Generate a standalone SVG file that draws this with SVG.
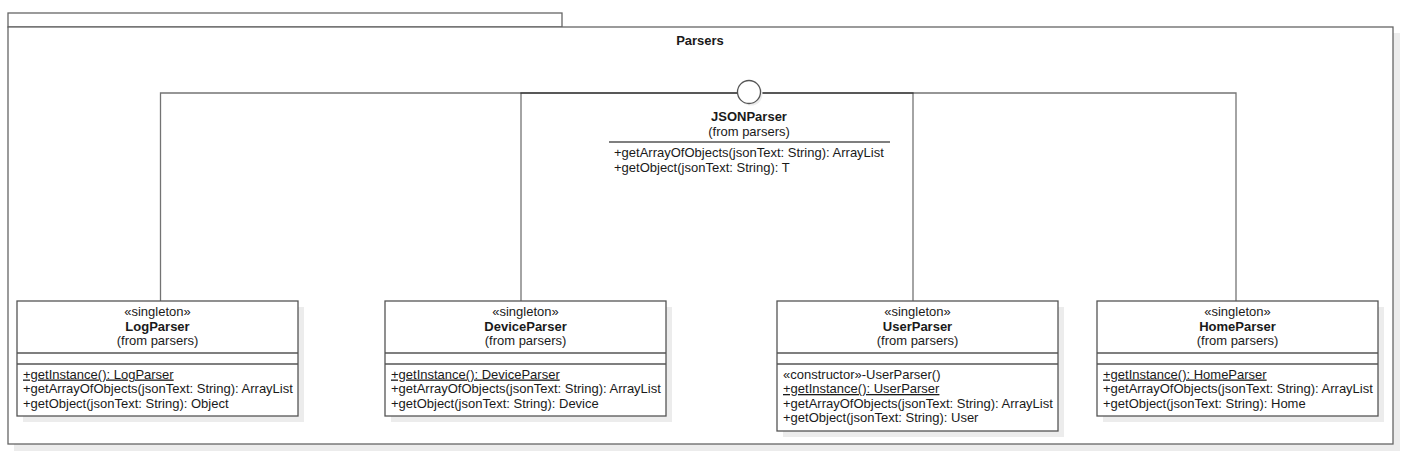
<svg xmlns="http://www.w3.org/2000/svg" width="1427" height="465" viewBox="0 0 1427 465">
<style>
text{font-family:"Liberation Sans",Arial,sans-serif;font-size:13px;fill:#1a1a1a}
.c{text-anchor:middle}
.b{font-weight:bold}
.u{text-decoration:underline}
.box{fill:#fff;stroke:#555;stroke-width:1.3}
.sh{fill:#ececec}
.sep{stroke:#555;stroke-width:1.3}
.pk{fill:#fff;stroke:#666;stroke-width:1.3}
.con{fill:none;stroke:#000;stroke-opacity:0.55;stroke-width:1.3}
</style>
<g id="package">
<rect class="sh" x="14" y="33" width="1386" height="418"/>
<rect class="pk" x="8" y="13" width="554" height="14"/>
<rect class="pk" x="8" y="27" width="1385" height="417"/>
<text class="c b" x="700" y="45">Parsers</text>
</g>
<g id="connectors">
<path class="con" d="M737.5,93 H160.5 V301"/>
<path class="con" d="M737.5,93 H521 V301"/>
<path class="con" d="M760.5,93 H913 V301"/>
<path class="con" d="M760.5,93 H1236 V301"/>
</g>
<g id="JSONParser">
<circle cx="751" cy="94" r="11.5" fill="#ececec"/>
<circle cx="749" cy="92" r="11.5" fill="#fff" stroke="#555" stroke-width="1.3"/>
<text class="c b" x="749" y="121">JSONParser</text>
<text class="c" x="749" y="135.5">(from parsers)</text>
<line class="sep" x1="609" y1="142" x2="890" y2="142"/>
<text x="614" y="157">+getArrayOfObjects(jsonText: String): ArrayList</text>
<text x="614" y="171.5">+getObject(jsonText: String): T</text>
</g>
<g id="LogParser">
<rect class="sh" x="23" y="307" width="281" height="115"/>
<rect class="box" x="17" y="301" width="281" height="115"/>
<line class="sep" x1="17" y1="353" x2="298" y2="353"/>
<line class="sep" x1="17" y1="364" x2="298" y2="364"/>
<text class="c" x="157.5" y="316">«singleton»</text>
<text class="c b" x="157.5" y="330.5">LogParser</text>
<text class="c" x="157.5" y="345">(from parsers)</text>
<text class="u" x="23" y="378.5">+getInstance(): LogParser</text>
<text x="23" y="393">+getArrayOfObjects(jsonText: String): ArrayList</text>
<text x="23" y="407.5">+getObject(jsonText: String): Object</text>
</g>
<g id="DeviceParser">
<rect class="sh" x="391" y="307" width="281" height="115"/>
<rect class="box" x="385" y="301" width="281" height="115"/>
<line class="sep" x1="385" y1="353" x2="666" y2="353"/>
<line class="sep" x1="385" y1="364" x2="666" y2="364"/>
<text class="c" x="525.5" y="316">«singleton»</text>
<text class="c b" x="525.5" y="330.5">DeviceParser</text>
<text class="c" x="525.5" y="345">(from parsers)</text>
<text class="u" x="391" y="378.5">+getInstance(): DeviceParser</text>
<text x="391" y="393">+getArrayOfObjects(jsonText: String): ArrayList</text>
<text x="391" y="407.5">+getObject(jsonText: String): Device</text>
</g>
<g id="UserParser">
<rect class="sh" x="783" y="307" width="281" height="130"/>
<rect class="box" x="777" y="301" width="281" height="130"/>
<line class="sep" x1="777" y1="353" x2="1058" y2="353"/>
<line class="sep" x1="777" y1="364" x2="1058" y2="364"/>
<text class="c" x="917.5" y="316">«singleton»</text>
<text class="c b" x="917.5" y="330.5">UserParser</text>
<text class="c" x="917.5" y="345">(from parsers)</text>
<text x="783" y="378.5">«constructor»-UserParser()</text>
<text class="u" x="783" y="393">+getInstance(): UserParser</text>
<text x="783" y="407.5">+getArrayOfObjects(jsonText: String): ArrayList</text>
<text x="783" y="422">+getObject(jsonText: String): User</text>
</g>
<g id="HomeParser">
<rect class="sh" x="1103" y="307" width="281" height="115"/>
<rect class="box" x="1097" y="301" width="281" height="115"/>
<line class="sep" x1="1097" y1="353" x2="1378" y2="353"/>
<line class="sep" x1="1097" y1="364" x2="1378" y2="364"/>
<text class="c" x="1237.5" y="316">«singleton»</text>
<text class="c b" x="1237.5" y="330.5">HomeParser</text>
<text class="c" x="1237.5" y="345">(from parsers)</text>
<text class="u" x="1103" y="378.5">+getInstance(): HomeParser</text>
<text x="1103" y="393">+getArrayOfObjects(jsonText: String): ArrayList</text>
<text x="1103" y="407.5">+getObject(jsonText: String): Home</text>
</g>
</svg>
